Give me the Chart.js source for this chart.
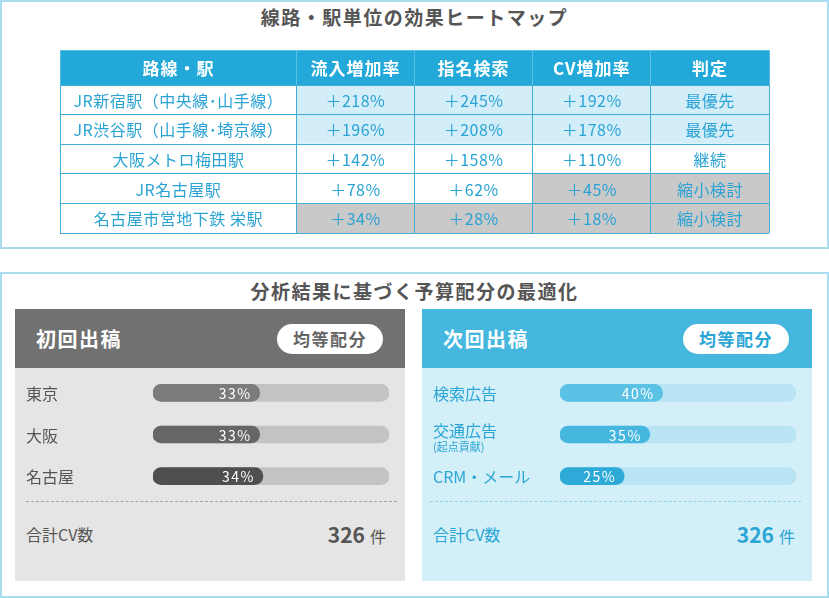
<!DOCTYPE html>
<html lang="ja">
<head>
<meta charset="utf-8">
<script src="https://cdn.jsdelivr.net/npm/chart.js@4"></script>
<style>
  body { margin: 0; width: 829px; height: 598px; background: #fff; position: relative; overflow: hidden;
         font-family: "Noto Sans CJK JP", sans-serif; }
  .abs { position: absolute; }
  .panel { box-sizing: border-box; border: 2px solid #a9dcee; left: 0; width: 829px; }
  .title { left: 0; width: 829px; text-align: center; font-size: 19px; font-weight: bold; color: #555;
           letter-spacing: 1.5px; line-height: 20px; }
  .card-head { height: 59px; }
  .card-head .name { position: absolute; left: 21px; top: 18px; font-size: 20px; font-weight: bold; color: #fff;
                     letter-spacing: 1.5px; line-height: 24px; }
  .pill { position: absolute; top: 15px; width: 106px; height: 30px; border-radius: 15px; background: #fff;
          text-align: center; line-height: 30px; font-size: 17px; font-weight: bold; letter-spacing: 1.5px; }
  .dash { height: 0; border-top: 1.5px dashed; }
  .total { font-size: 16px; line-height: 20px; }
  .count { font-size: 21px; font-weight: bold; line-height: 24px; text-align: right; width: 120px; }
  .count span { font-size: 16px; font-weight: normal; margin-left: 5px; }
</style>
</head>
<body>
<div class="abs panel" style="top:0;height:249px;"></div>
<div class="abs title" style="top:7px;">線路・駅単位の効果ヒートマップ</div>
<div class="abs" style="left:59px;top:49px;width:711px;height:37px;"><canvas id="headChart"></canvas></div>
<div class="abs" style="left:59px;top:84px;width:711px;height:150px;"><canvas id="tableChart"></canvas></div>

<div class="abs panel" style="top:272px;height:326px;"></div>
<div class="abs title" style="top:281px;">分析結果に基づく予算配分の最適化</div>

<div class="abs" style="left:15px;top:309px;width:390px;height:272px;background:#e5e5e5;"></div>
<div class="abs card-head" style="left:15px;top:309px;width:390px;background:#717171;">
  <div class="name">初回出稿</div>
  <div class="pill" style="left:262px;color:#666;">均等配分</div>
</div>
<div class="abs" style="left:15px;top:372px;width:390px;height:125px;"><canvas id="firstChart"></canvas></div>
<div class="abs dash" style="left:26px;top:501px;width:371px;border-color:#a3a3a3;"></div>
<div class="abs total" style="left:26px;top:524px;color:#555;">合計CV数</div>
<div class="abs count" id="firstTotal" style="left:266px;top:522px;color:#555;"></div>

<div class="abs" style="left:422px;top:309px;width:390px;height:272px;background:#d3eff8;"></div>
<div class="abs card-head" style="left:422px;top:309px;width:390px;background:#45b7df;">
  <div class="name">次回出稿</div>
  <div class="pill" style="left:261px;color:#2aa5d5;">均等配分</div>
</div>
<div class="abs" style="left:422px;top:372px;width:390px;height:125px;"><canvas id="nextChart"></canvas></div>
<div class="abs dash" style="left:430px;top:501px;width:371px;border-color:#8fd3ec;"></div>
<div class="abs total" style="left:433px;top:524px;color:#2aa5d5;">合計CV数</div>
<div class="abs count" id="nextTotal" style="left:675px;top:522px;color:#2aa5d5;"></div>

<script>
// heatmap table
const columnHeaders = ["路線・駅", "流入増加率", "指名検索", "CV増加率", "判定"];
const stations = ["JR新宿駅（中央線･山手線）", "JR渋谷駅（山手線･埼京線）", "大阪メトロ梅田駅", "JR名古屋駅", "名古屋市営地下鉄 栄駅"];
const inflowGrowth = [218, 196, 142, 78, 34];
const searchGrowth = [245, 208, 158, 62, 28];
const cvGrowth = [192, 178, 110, 45, 18];
const verdicts = ["最優先", "最優先", "継続", "縮小検討", "縮小検討"];

// budget allocation
const firstChannels = ["東京", "大阪", "名古屋"];
const firstShares = [33, 33, 34];
const nextChannels = ["検索広告", "交通広告", "CRM・メール"];
const nextSubLabels = ["", "(起点貢献)", ""];
const nextShares = [40, 35, 25];
const firstTotalCv = 326;
const nextTotalCv = 326;

Chart.defaults.font.family = "'Noto Sans CJK JP', sans-serif";
Chart.defaults.animation = false;
Chart.defaults.plugins.legend.display = false;
Chart.defaults.plugins.tooltip.enabled = false;

const BLUE_CELL = "#d3eef8";
const GRAY_CELL = "#c9c9c9";
const colSpan = [2, 1, 1, 1, 1];

function growthColor(v) {
    if (v >= 170) return BLUE_CELL;
    if (v < 50) return GRAY_CELL;
    return "#ffffff";
}
function verdictColor(v) {
    if (v === "最優先") return BLUE_CELL;
    if (v === "縮小検討") return GRAY_CELL;
    return "#ffffff";
}
const pct = v => "＋" + v + "%";

const cellText = {
    id: "cellText",
    afterDraw(chart, args, opts) {
        const ctx = chart.ctx;
        ctx.save();
        ctx.font = opts.font;
        ctx.fillStyle = opts.color;
        ctx.letterSpacing = opts.spacing || "0px";
        ctx.textAlign = "center";
        ctx.textBaseline = "middle";
        chart.data.datasets.forEach((ds, j) => {
            chart.getDatasetMeta(j).data.forEach((el, i) => {
                ctx.fillText(ds.cellText[i], (el.x + el.base) / 2, el.y + 1);
            });
        });
        ctx.restore();
    }
};

function tableScales(lineColor) {
    return {
        x: {
            type: "linear", min: 0, max: 6, stacked: true,
            ticks: { display: false, stepSize: 1 },
            border: { display: false },
            grid: { z: 1, drawTicks: false, lineWidth: 1,
                    color: c => c.tick && c.tick.value === 1 ? "rgba(0,0,0,0)" : lineColor }
        },
        y: {
            stacked: true,
            ticks: { display: false },
            border: { display: false },
            grid: { z: 1, drawTicks: false, color: lineColor, lineWidth: 1, offset: true }
        }
    };
}

new Chart(document.getElementById("headChart"), {
    type: "bar",
    data: {
        labels: ["header"],
        datasets: columnHeaders.map((h, j) => ({
            data: [colSpan[j]],
            cellText: [h],
            backgroundColor: "#22a9d9",
            categoryPercentage: 1, barPercentage: 1
        }))
    },
    options: {
        indexAxis: "y",
        responsive: true, maintainAspectRatio: false,
        layout: { padding: 1 },
        scales: tableScales("#5cc0e4"),
        plugins: { cellText: { font: "bold 17px 'Noto Sans CJK JP'", color: "#ffffff", spacing: "1px" } }
    },
    plugins: [cellText]
});

const columnTexts = [
    stations,
    inflowGrowth.map(pct),
    searchGrowth.map(pct),
    cvGrowth.map(pct),
    verdicts
];
const columnColors = [
    stations.map(() => "#ffffff"),
    inflowGrowth.map(growthColor),
    searchGrowth.map(growthColor),
    cvGrowth.map(growthColor),
    verdicts.map(verdictColor)
];

new Chart(document.getElementById("tableChart"), {
    type: "bar",
    data: {
        labels: stations,
        datasets: columnTexts.map((texts, j) => ({
            data: stations.map(() => colSpan[j]),
            cellText: texts,
            backgroundColor: columnColors[j],
            categoryPercentage: 1, barPercentage: 1
        }))
    },
    options: {
        indexAxis: "y",
        responsive: true, maintainAspectRatio: false,
        layout: { padding: 1 },
        scales: tableScales("#45acd8"),
        plugins: { cellText: { font: "16px 'Noto Sans CJK JP'", color: "#2aa3d4", spacing: "0.5px" } }
    },
    plugins: [cellText]
});

// progress bars
const barLabels = {
    id: "barLabels",
    afterDraw(chart, args, opts) {
        const ctx = chart.ctx;
        const fillMeta = chart.getDatasetMeta(0);
        ctx.save();
        ctx.textBaseline = "middle";
        fillMeta.data.forEach((el, i) => {
            const sub = opts.subLabels ? opts.subLabels[i] : "";
            ctx.textAlign = "left";
            ctx.fillStyle = opts.labelColor;
            ctx.letterSpacing = "0px";
            ctx.font = "16px 'Noto Sans CJK JP'";
            ctx.fillText(chart.data.labels[i], 11, sub ? el.y - 4 : el.y + 1);
            if (sub) {
                ctx.font = "11px 'Noto Sans CJK JP'";
                ctx.fillText(sub, 11, el.y + 12);
            }
            ctx.textAlign = "right";
            ctx.fillStyle = "#ffffff";
            ctx.letterSpacing = "1.5px";
            ctx.font = "14px 'Noto Sans CJK JP'";
            ctx.fillText(chart.data.datasets[0].data[i] + "%", el.x - 8, el.y + 1);
        });
        ctx.restore();
    }
};

function shareChart(id, labels, shares, fills, track, axisMax, labelColor, subLabels) {
    const common = { grouped: false, barThickness: 17, borderRadius: 9, borderSkipped: false };
    return new Chart(document.getElementById(id), {
        type: "bar",
        data: {
            labels: labels,
            datasets: [
                Object.assign({ data: shares, backgroundColor: fills, order: 0 }, common),
                Object.assign({ data: shares.map(() => axisMax), backgroundColor: track, order: 1 }, common)
            ]
        },
        options: {
            indexAxis: "y",
            responsive: true, maintainAspectRatio: false,
            layout: { padding: { left: 138, right: 16, top: 0, bottom: 0 } },
            scales: {
                x: { min: 0, max: axisMax, display: false },
                y: { display: false }
            },
            plugins: { barLabels: { labelColor: labelColor, subLabels: subLabels } }
        },
        plugins: [barLabels]
    });
}

shareChart("firstChart", firstChannels, firstShares, ["#7b7b7b", "#666666", "#4f4f4f"], "#c3c3c3", 73, "#555555");
shareChart("nextChart", nextChannels, nextShares, ["#5cc2e5", "#45b7df", "#2eaad9"], "#b8e4f3", 92, "#2aa5d5", nextSubLabels);

document.getElementById("firstTotal").innerHTML = firstTotalCv + "<span>件</span>";
document.getElementById("nextTotal").innerHTML = nextTotalCv + "<span>件</span>";
</script>
</body>
</html>
